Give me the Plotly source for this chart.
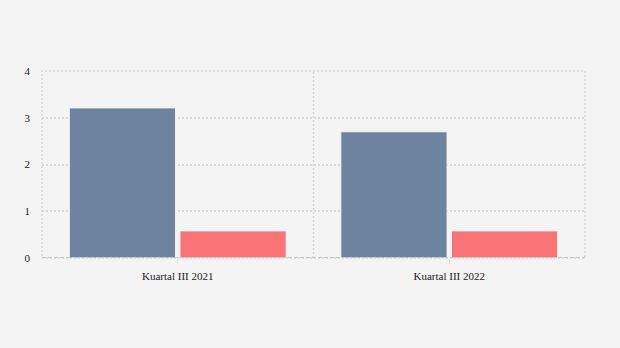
import plotly.graph_objects as go

categories = ["Kuartal III 2021", "Kuartal III 2022"]
series_a = [3.21, 2.70]
series_b = [0.58, 0.58]
y_ticks = [0, 1, 2, 3, 4]

grid_col = "#d9d9d9"
grid_dash = "2px,2px"

fig = go.Figure()
fig.add_trace(go.Bar(x=categories, y=series_a, name="A",
                     marker=dict(color="#6e83a0", line=dict(color="#f4f4f4", width=1))))
fig.add_trace(go.Bar(x=categories, y=series_b, name="B",
                     marker=dict(color="#f87476", line=dict(color="#f4f4f4", width=1))))

fig.update_layout(
    width=620, height=348,
    margin=dict(l=42, r=35, t=71, b=90),
    paper_bgcolor="#f4f4f4", plot_bgcolor="#f4f4f4",
    showlegend=False,
    barmode="group", bargap=0.185, bargroupgap=0.04,
    font=dict(family="Liberation Serif", size=11, color="#222"),
)
# plot border (dotted), middle category boundary, and bottom axis line
fig.add_shape(type="rect", xref="x domain", yref="y domain", x0=0, x1=1, y0=0, y1=1,
              line=dict(color=grid_col, width=1.6, dash=grid_dash), layer="below")
fig.add_shape(type="line", xref="x", yref="y domain", x0=0.5, x1=0.5, y0=0, y1=1,
              line=dict(color=grid_col, width=1.6, dash=grid_dash), layer="below")
fig.add_shape(type="line", xref="x domain", yref="y", x0=0, x1=1, y0=0, y1=0,
              line=dict(color="#c8c8c8", width=2, dash="4px,2px"), layer="above")

fig.update_xaxes(showgrid=False, ticks="outside", ticklen=5, tickcolor="#e2e2e2",
                 showline=False, ticklabelstandoff=3, tickfont=dict(size=11))
fig.update_yaxes(range=[0, 4], tickvals=y_ticks, showgrid=True, gridcolor=grid_col,
                 griddash=grid_dash, gridwidth=1.6, zeroline=False, ticks="",
                 ticklabelstandoff=11, tickfont=dict(size=11))

fig.write_html("out.html")
